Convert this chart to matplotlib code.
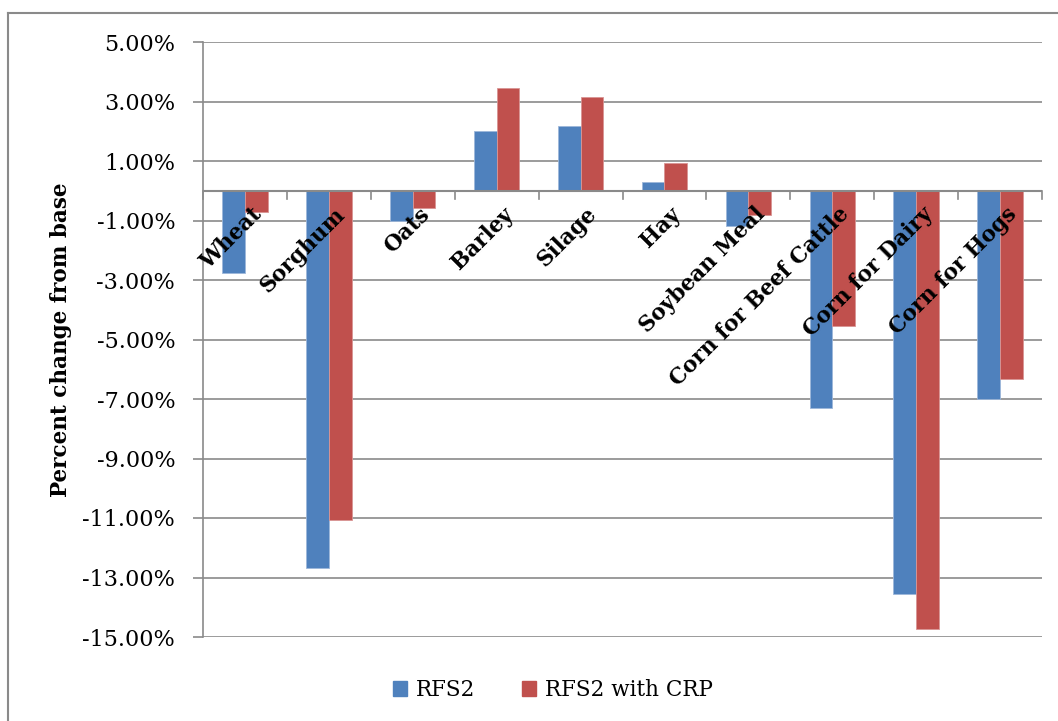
#!/usr/bin/env python3
# -*- coding: utf-8 -*-

import numpy as np
import matplotlib
matplotlib.use('Agg')
import matplotlib.pyplot as plt
import matplotlib.patches as mpatches
from matplotlib.lines import Line2D
from matplotlib.ticker import FuncFormatter

#data (percent change from base)#
crops = ['Wheat', 'Sorghum', 'Oats', 'Barley', 'Silage', 'Hay', 'Soybean Meal',
         'Corn for Beef Cattle', 'Corn for Dairy', 'Corn for Hogs']
rfs2 = [-2.75, -12.67, -1.0, 2.0, 2.18, 0.3, -1.2, -7.29, -13.55, -7.0]
rfs2_crp = [-0.7, -11.06, -0.57, 3.46, 3.16, 0.94, -0.8, -4.55, -14.72, -6.32]
series_names = ['RFS2', 'RFS2 with CRP']
yticks = [5, 3, 1, -1, -3, -5, -7, -9, -11, -13, -15]

blue = '#4F81BD'
red = '#C0504D'
grey = '#8A8A8A'
serif = 'DejaVu Serif'

fig = plt.figure(figsize=(10.58, 7.21), dpi=100)
ax = fig.add_axes([203/1058, 1-637/721, (1042-203)/1058, (637-42)/721])

x = np.arange(len(crops))
w = 0.27
ax.bar(x - w/2, rfs2, w, color=blue, edgecolor='#9DB7DA', linewidth=0.6, zorder=3)
ax.bar(x + w/2, rfs2_crp, w, color=red, edgecolor='#D99594', linewidth=0.6, zorder=3)

ax.set_xlim(-0.5, len(crops) - 0.5)
ax.set_ylim(-15, 5)
ax.set_yticks(yticks)
ax.yaxis.set_major_formatter(FuncFormatter(lambda v, p: '%.2f%%' % v))
ax.grid(axis='y', color=grey, linewidth=1.2, zorder=0)
ax.tick_params(axis='y', length=7, width=1.2, color=grey, pad=13, labelsize=16)
for t in ax.get_yticklabels():
	t.set_fontfamily(serif)

for s in ['top', 'right', 'bottom']:
	ax.spines[s].set_visible(False)
ax.spines['left'].set_color(grey)
ax.spines['left'].set_linewidth(1.2)

#horizontal category axis at zero with tick marks between categories
ax.set_xticks([])
ax.axhline(0, color=grey, linewidth=1.5, zorder=4)
for b in np.arange(-0.5, len(crops), 1.0):
	ax.plot([b, b], [0, -0.28], color=grey, linewidth=1.2, zorder=4, clip_on=False)

#rotated category labels sitting just under the zero line
for i, c in enumerate(crops):
	ax.annotate(c, xy=(i, 0), xytext=(4, -9), textcoords='offset points',
		rotation=45, ha='right', va='top', rotation_mode='anchor',
		fontsize=15.5, fontweight='bold', fontfamily=serif, zorder=5)

ax.set_ylabel('Percent change from base', fontsize=15.5, fontweight='bold',
	fontfamily=serif, labelpad=0)
ax.yaxis.set_label_coords(-0.156, 0.5)

#legend
handles = [mpatches.Patch(color=blue, label=series_names[0]),
	mpatches.Patch(color=red, label=series_names[1])]
fig.legend(handles=handles, loc='center', bbox_to_anchor=(553/1058, 1-690/721),
	ncol=2, frameon=False, prop={'family': serif, 'size': 15.5},
	handlelength=0.65, handleheight=0.65, handletextpad=0.4, columnspacing=2.2)

#chart area frame (top and left edges are visible in the original)
fig.add_artist(Line2D([8/1058, 8/1058], [0, 1-13/721], color=grey, linewidth=1.5))
fig.add_artist(Line2D([8/1058, 1], [1-13/721, 1-13/721], color=grey, linewidth=1.5))

plt.savefig('out.png', dpi=100)
plt.close()
